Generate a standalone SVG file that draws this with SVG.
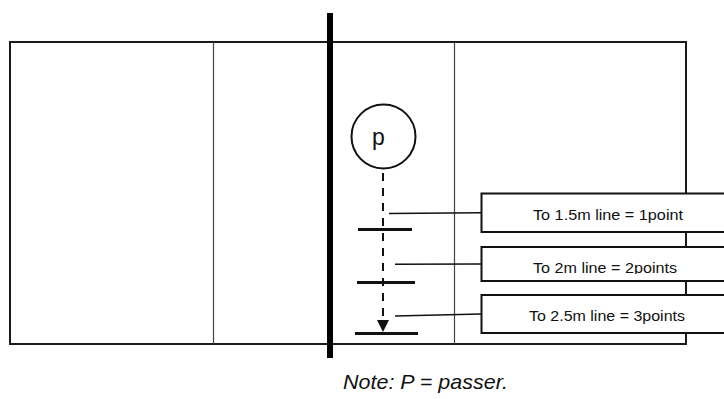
<svg xmlns="http://www.w3.org/2000/svg" width="724" height="399" viewBox="0 0 724 399">
<style>
.court{fill:none;stroke:#1a1a1a;stroke-width:2}
.thin{stroke:#444;stroke-width:1.2}
.tick{stroke:#111;stroke-width:3}
.conn{stroke:#111;stroke-width:1.6;fill:none}
.box{fill:#fff;stroke:#111;stroke-width:2}
.lbl{font-family:"Liberation Sans",Arial,sans-serif;font-size:15px;fill:#111;text-anchor:middle}
</style>
<defs>
<clipPath id="clip2"><rect x="480" y="246" width="250" height="28"/></clipPath>
</defs>
<g id="court">
<rect class="court" x="10" y="42" width="676" height="302"/>
<line class="thin" x1="213.5" y1="42" x2="213.5" y2="344"/>
<line class="thin" x1="454.5" y1="42" x2="454.5" y2="344"/>
<rect x="327" y="13" width="6" height="345" fill="#000"/>
</g>
<g id="tick-lines">
<line class="tick" x1="358" y1="229.5" x2="412" y2="229.5"/>
<line class="tick" x1="357" y1="282.5" x2="415" y2="282.5"/>
<line class="tick" x1="355" y1="333.5" x2="418" y2="333.5"/>
</g>
<g id="passer">
<circle cx="383.5" cy="136.5" r="32" fill="#fff" stroke="#111" stroke-width="2"/>
<text x="378.5" y="145" style="font-family:'Liberation Sans',Arial,sans-serif;font-size:23px;fill:#111;text-anchor:middle">p</text>
</g>
<g id="connectors">
<line x1="383" y1="173" x2="383" y2="320" stroke="#111" stroke-width="2" stroke-dasharray="8,7"/>
<path d="M377,320 L389,320 L383,332 Z" fill="#111"/>
<line class="conn" x1="389" y1="213.5" x2="481" y2="212.7"/>
<line class="conn" x1="395" y1="264.3" x2="481" y2="264"/>
<line class="conn" x1="395" y1="316" x2="481" y2="314"/>
</g>
<g id="box1">
<rect class="box" x="481.5" y="193.5" width="250" height="38.5"/>
<text class="lbl" x="608" y="219.5" textLength="150" lengthAdjust="spacingAndGlyphs">To 1.5m line = 1point</text>
</g>
<g id="box2">
<rect class="box" x="481.5" y="247" width="250" height="34"/>
<text class="lbl" x="605" y="273" textLength="144" lengthAdjust="spacingAndGlyphs" clip-path="url(#clip2)">To 2m line = 2points</text>
</g>
<g id="box3">
<rect class="box" x="481.5" y="295" width="250" height="38"/>
<text class="lbl" x="607" y="321" textLength="156" lengthAdjust="spacingAndGlyphs">To 2.5m line = 3points</text>
</g>
<g id="note">
<text x="343" y="389" textLength="165" lengthAdjust="spacingAndGlyphs" style="font-family:'Liberation Sans',Arial,sans-serif;font-size:21px;font-style:italic;fill:#111">Note: P = passer.</text>
</g>
</svg>
